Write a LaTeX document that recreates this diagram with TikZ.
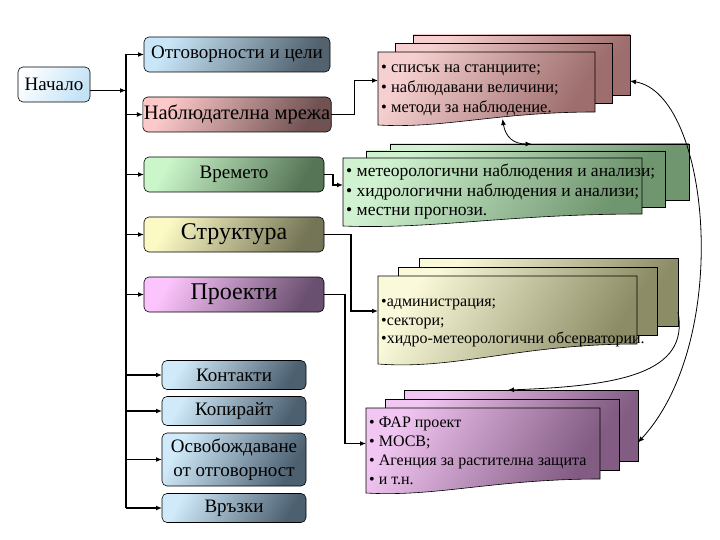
\documentclass[tikz,border=0pt]{standalone}
\usepackage{fontspec}
\setmainfont{Liberation Serif}
\usetikzlibrary{arrows.meta, calc}
% box colours (light / dark)
\definecolor{startL}{RGB}{252,254,255}
\definecolor{startR}{RGB}{196,226,246}
\definecolor{respL}{RGB}{200,230,248}
\definecolor{respR}{RGB}{82,98,110}
\definecolor{netL}{RGB}{252,200,200}
\definecolor{netR}{RGB}{112,82,82}
\definecolor{wxL}{RGB}{202,246,202}
\definecolor{wxR}{RGB}{86,116,86}
\definecolor{strL}{RGB}{252,250,196}
\definecolor{strR}{RGB}{116,116,86}
\definecolor{prjL}{RGB}{252,196,252}
\definecolor{prjR}{RGB}{106,80,112}
\definecolor{smallL}{RGB}{208,234,250}
\definecolor{smallR}{RGB}{76,96,112}
% page stacks
\definecolor{netdocL}{RGB}{246,208,208}
\definecolor{netdocR}{RGB}{158,110,110}
\definecolor{wxdocL}{RGB}{208,242,208}
\definecolor{wxdocR}{RGB}{112,150,112}
\definecolor{structdocL}{RGB}{250,250,218}
\definecolor{structdocR}{RGB}{140,140,102}
\definecolor{projdocL}{RGB}{242,198,242}
\definecolor{projdocR}{RGB}{130,92,130}

% #1 name, #2 #3 top left, #4 width, #5 height, #6 #7 offset, #8 wave
\newcommand{\docstack}[8]{%
  \foreach \k in {2,1}
    \node[docpage, top color=#1L, bottom color=#1R, shading angle=60,
          minimum width=#4pt, minimum height={(#5-#8)*1pt}, anchor=north west]
      (#1\k) at (#2+\k*#6, #3-\k*#7) {};
  \node[docpage, draw=none, minimum width=#4pt, minimum height=#5pt,
        anchor=north west] (#1) at (#2,#3) {};
  \path[draw, line width=0.6pt, top color=#1L, bottom color=#1R, shading angle=60]
    (#1.north west) -- (#1.north east) -- ([shift={(0,-#8)}]#1.south east)
    .. controls +(-0.45*#4,0) and +(0.3*#4,0.3*#8) .. (#1.south west) -- cycle;
}

\begin{document}
\begin{tikzpicture}[x=1pt, y=-1pt,
    box/.style={draw, rounded corners=5pt, line width=0.6pt, inner sep=1pt,
      outer sep=0pt, minimum height=35pt, font=\fontsize{19}{22}\selectfont},
    shadebox/.style 2 args={top color=#1, bottom color=#2, shading angle=60},
    docpage/.style={draw, line width=0.6pt, inner sep=0pt, outer sep=0pt},
    doctext/.style={align=left, inner sep=3pt, anchor=west},
    link/.style={line width=1.3pt, -{Latex[length=6pt,width=5pt]}},
    bendlink/.style={line width=0.8pt, -{Latex[length=6pt,width=5pt]}},
    twolink/.style={line width=0.8pt, {Latex[length=6pt,width=5pt]}-{Latex[length=6pt,width=5pt]}}]
  \useasboundingbox (0,0) rectangle (720,540);

  % menu
  \node[box, shadebox={startL}{startR}, minimum width=72pt] (start) at (54,84.5) {Начало};
  \node[box, shadebox={respL}{respR}, minimum width=186pt] (resp) at (237,54.5) {Отговорности и цели};
  \node[box, shadebox={netL}{netR}, minimum width=186pt,
        font=\fontsize{20.5}{22}\selectfont] (net) at (237,114.5) {Наблюдателна мрежа};
  \node[box, shadebox={wxL}{wxR}, minimum width=180pt] (weather) at (234,174.5) {Времето};
  \node[box, shadebox={strL}{strR}, minimum width=180pt,
        font=\fontsize{24}{26}\selectfont] (struct) at (234,234.5) {Структура};
  \node[box, shadebox={prjL}{prjR}, minimum width=180pt,
        font=\fontsize{24}{26}\selectfont] (proj) at (234,294.5) {Проекти};
  \node[box, shadebox={smallL}{smallR}, minimum width=144pt, minimum height=29pt] (contacts) at (234,375) {Контакти};
  \node[box, shadebox={smallL}{smallR}, minimum width=144pt, minimum height=29pt] (copyright) at (234,411) {Копирайт};
  \node[box, shadebox={smallL}{smallR}, minimum width=144pt, minimum height=53pt,
        align=center, font=\fontsize{19}{24}\selectfont] (disclaimer) at (234,459.5) {Освобождаване\\от отговорност};
  \node[box, shadebox={smallL}{smallR}, minimum width=144pt, minimum height=29pt] (links) at (234,508) {Връзки};

  % trunk
  \coordinate (trunk) at (126,0);
  \coordinate (startout) at ([yshift=-6pt]start.east);
  \draw[line width=1.3pt] (resp.west -| trunk) -- (links.west -| trunk);
  \draw[link] (startout) -- (startout -| trunk);
  \foreach \n in {resp,net,weather,struct,proj,contacts,copyright,disclaimer,links}
    \draw[link] (\n.west -| trunk) -- (\n.west);

  % stacks of pages
  \docstack{netdoc}{378}{52}{217}{73}{17.5}{8.5}{13}
  \docstack{wxdoc}{343}{158}{299}{68}{23.5}{7}{12}
  \docstack{structdoc}{378}{276}{259}{88}{20.5}{9}{20}
  \docstack{projdoc}{366}{408}{234}{85}{19}{9}{14}

  \node[doctext, font=\fontsize{16.5}{20}\selectfont, yshift=-2pt] (netlist) at (netdoc.west)
    {• списък на станциите;\\• наблюдавани величини;\\• методи за наблюдение.};
  \node[doctext, font=\fontsize{17.5}{19.5}\selectfont] (wxlist) at (wxdoc.west)
    {• метеорологични наблюдения и анализи;\\• хидрологични наблюдения и анализи;\\• местни прогнози.};
  \node[doctext, font=\fontsize{16}{18.5}\selectfont, yshift=-3pt] (structlist) at (structdoc.west)
    {•администрация;\\•сектори;\\•хидро-метеорологични обсерватории.};
  \node[doctext, font=\fontsize{16}{19}\selectfont] (projlist) at (projdoc.west)
    {• ФАР проект\\• МОСВ;\\• Агенция за растителна защита\\• и т.н.};

  % links to the pages
  \draw[link] (net.east) -- ++(23,0) |- ([yshift=8pt]netdoc.west);
  \draw[link] (weather.east) -- ++(9,0) |- ([yshift=7pt]wxdoc.west);
  \draw[link] (struct.east) -- ++(27,0) |- ([yshift=9pt]structdoc.west);
  \draw[link] (proj.east) -- ++(21,0) |- ([yshift=7pt]projdoc.west);

  \draw[twolink] ([xshift=16pt,yshift=6pt]netdoc.south)
    .. controls +(3,18) and +(-18,0) .. ([xshift=-8pt]wxdoc2.north);
  \draw[twolink] ([yshift=-16pt]netdoc2.east)
    .. controls +(80,13) and +(95,-103) .. ([yshift=-17pt]projdoc2.east);
  \draw[bendlink] ([yshift=-20pt]structdoc2.east)
    .. controls +(12,62) and +(110,-4) .. ([xshift=-13pt]projdoc2.north);
\end{tikzpicture}
\end{document}
